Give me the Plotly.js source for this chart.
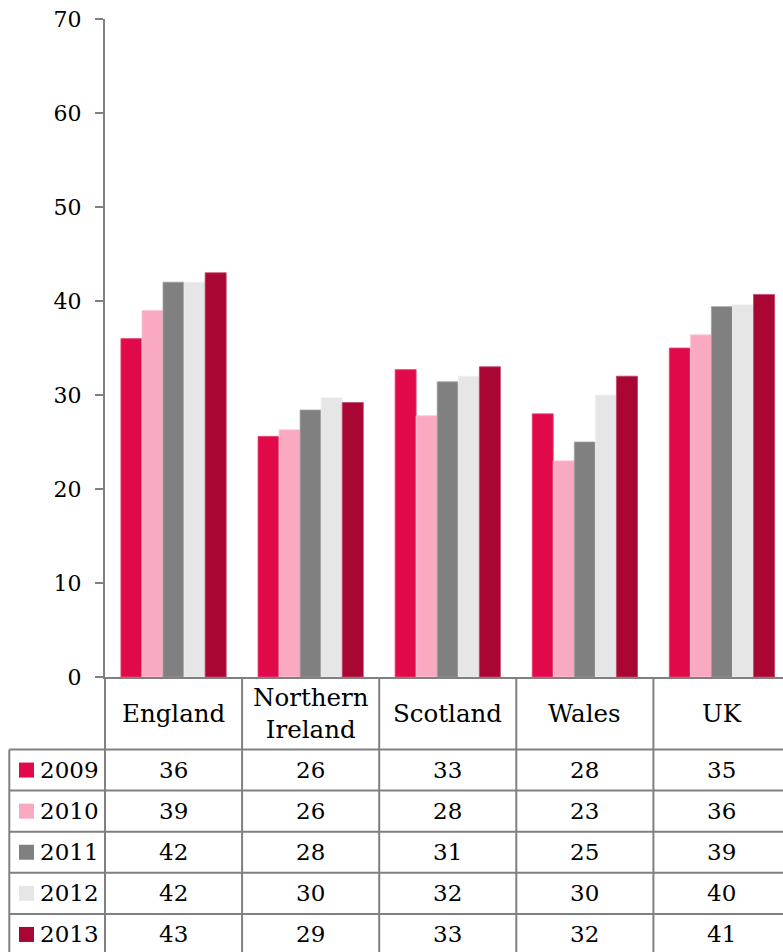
<!DOCTYPE html>
<html>
<head>
<meta charset="utf-8">
<script src="https://cdn.plot.ly/plotly-3.0.1.min.js"></script>
<style>
  html, body { margin: 0; padding: 0; background: #ffffff; }
  #chart { width: 783px; height: 952px; }
</style>
</head>
<body>
<div id="chart"></div>
<script>
// ---- data ----
const categories = ["England", "Northern<br>Ireland", "Scotland", "Wales", "UK"];
const years = ["2009", "2010", "2011", "2012", "2013"];
const v2009 = [36.0, 25.6, 32.7, 28.0, 35.0];
const v2010 = [39.0, 26.3, 27.8, 23.0, 36.4];
const v2011 = [42.0, 28.4, 31.4, 25.0, 39.4];
const v2012 = [42.0, 29.7, 32.0, 30.0, 39.6];
const v2013 = [43.0, 29.2, 33.0, 32.0, 40.7];
// table labels as printed
const t2009 = ["36", "26", "33", "28", "35"];
const t2010 = ["39", "26", "28", "23", "36"];
const t2011 = ["42", "28", "31", "25", "39"];
const t2012 = ["42", "30", "32", "30", "40"];
const t2013 = ["43", "29", "33", "32", "41"];
const yTicks = [0, 10, 20, 30, 40, 50, 60, 70];

const seriesValues = [v2009, v2010, v2011, v2012, v2013];
const tableText = [t2009, t2010, t2011, t2012, t2013];
const colors = ["#E1094A", "#FAAAC0", "#808080", "#E6E6E6", "#A90634"];
const edgeColors = ["#EA4D78", "#FCCAD8", "#A0A0A0", "#F0F0F0", "#C0446A"];

// ---- geometry (px) ----
const W = 783, H = 952;
const mL = 105, mR = 0, mT = 19, mB = 275;
const plotW = W - mL - mR, plotH = H - mT - mB;
const catW = 137.1;
const headerH = 72.5;
const rowH = 41.1;
const legendLeft = 9.3;
const gridColor = "#808080";
const family = "DejaVu Serif, Liberation Serif, serif";
const font = { family: family, size: 23, color: "#000000" };
const catFont = { family: family, size: 24.5, color: "#000000" };
const tickFont = { family: family, size: 22, color: "#000000" };

function px2xp(px) { return (px - mL) / plotW; }          // absolute px -> paper x
function dy2yp(d) { return -d / plotH; }                   // px below plot bottom -> paper y

const xIdx = categories.map((c, i) => i);

const traces = years.map((yr, k) => ({
  type: "bar",
  name: yr,
  x: xIdx,
  y: seriesValues[k],
  marker: { color: colors[k], line: { width: 0.8, color: edgeColors[k] } },
  hoverinfo: "skip"
}));

const shapes = [];
const annotations = [];
const lineStyle = { color: gridColor, width: 2 };
const tableBottom = headerH + rowH * years.length;

// vertical lines: left of plot (paper) and between categories (x axis)
shapes.push({ type: "line", xref: "paper", yref: "paper", x0: 0, x1: 0,
  y0: 0, y1: dy2yp(tableBottom), line: lineStyle });
for (let i = 0; i < categories.length; i++) {
  shapes.push({ type: "line", xref: "x", yref: "paper", x0: i + 0.5, x1: i + 0.5,
    y0: 0, y1: dy2yp(tableBottom), line: lineStyle });
}
// legend column left line
shapes.push({ type: "line", xref: "paper", yref: "paper", x0: px2xp(legendLeft), x1: px2xp(legendLeft),
  y0: dy2yp(headerH), y1: dy2yp(tableBottom), line: lineStyle });
// horizontal lines
for (let r = 0; r <= years.length; r++) {
  const yy = dy2yp(headerH + r * rowH);
  shapes.push({ type: "line", xref: "paper", yref: "paper", x0: px2xp(legendLeft), x1: 1,
    y0: yy, y1: yy, line: lineStyle });
}

// category header labels
categories.forEach((c, i) => {
  annotations.push({ xref: "x", yref: "paper", x: i, y: dy2yp(headerH / 2),
    text: c, showarrow: false, xanchor: "center", yanchor: "middle", font: catFont });
});

// rows
years.forEach((yr, r) => {
  const yc = dy2yp(headerH + rowH * (r + 0.5));
  // legend square 15px
  shapes.push({ type: "rect", xref: "paper", yref: "paper",
    x0: px2xp(19), x1: px2xp(34),
    y0: yc + 7.5 / plotH, y1: yc - 7.5 / plotH,
    fillcolor: colors[r], line: { width: 0 } });
  annotations.push({ xref: "paper", yref: "paper", x: px2xp(37.5), y: yc,
    text: yr, showarrow: false, xanchor: "left", yanchor: "middle", font: font });
  tableText[r].forEach((t, i) => {
    annotations.push({ xref: "x", yref: "paper", x: i, y: yc,
      text: t, showarrow: false, xanchor: "center", yanchor: "middle", font: font });
  });
});

const layout = {
  width: W, height: H,
  margin: { l: mL, r: mR, t: mT, b: mB, pad: 0 },
  paper_bgcolor: "#ffffff",
  plot_bgcolor: "#ffffff",
  barmode: "group",
  bargap: 0.232,
  bargroupgap: 0,
  showlegend: false,
  font: font,
  xaxis: {
    type: "linear",
    range: [-0.5, -0.5 + plotW / catW],
    showticklabels: false,
    ticks: "",
    showgrid: false,
    zeroline: false,
    showline: true,
    linecolor: gridColor,
    linewidth: 2,
    fixedrange: true
  },
  yaxis: {
    range: [0, 70],
    tickvals: yTicks,
    ticktext: yTicks.map(String),
    ticks: "outside",
    ticklen: 8,
    tickwidth: 2,
    tickcolor: gridColor,
    ticklabelstandoff: 9,
    showgrid: false,
    zeroline: false,
    showline: true,
    linecolor: gridColor,
    linewidth: 2,
    tickfont: tickFont,
    fixedrange: true
  },
  shapes: shapes,
  annotations: annotations
};

Plotly.newPlot("chart", traces, layout, { staticPlot: true, displayModeBar: false });
</script>
</body>
</html>
